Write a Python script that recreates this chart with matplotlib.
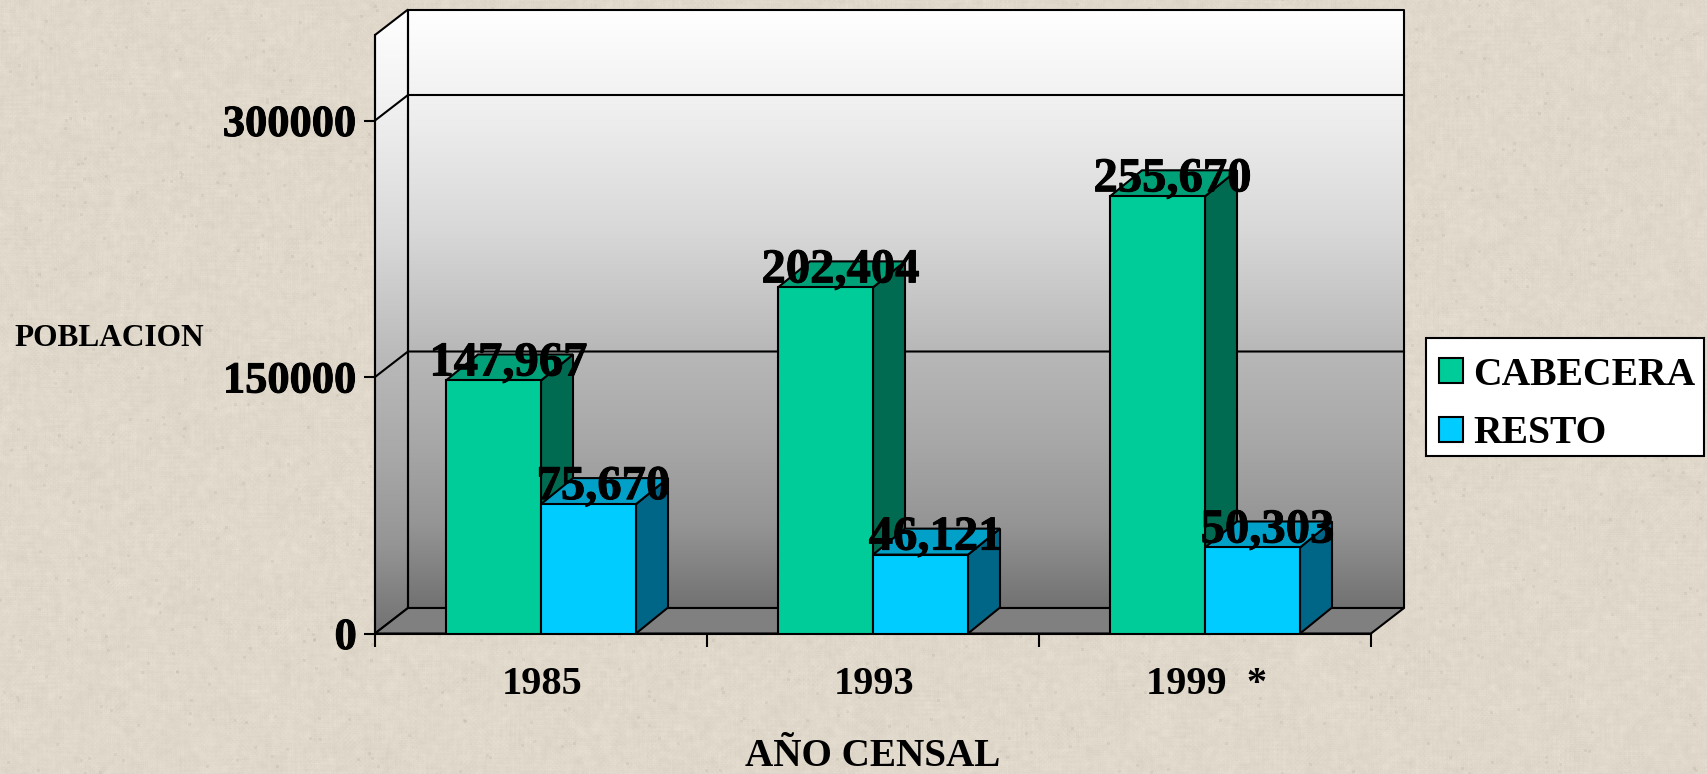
import numpy as np
import matplotlib
matplotlib.use("Agg")
import matplotlib.pyplot as plt
import matplotlib.patheffects as pe
from matplotlib.colors import LinearSegmentedColormap
from matplotlib.patches import Polygon, Patch, Rectangle

years = ["1985", "1993", "1999  *"]
cabecera = [147967, 202404, 255670]
resto = [75670, 46121, 50303]
yticks = [0, 150000, 300000]
series_names = ["CABECERA", "RESTO"]

W, H = 1707, 774
plt.rcParams['font.family'] = ['Liberation Serif', 'DejaVu Serif']
plt.rcParams['font.weight'] = 'bold'
fig = plt.figure(figsize=(W / 100, H / 100), dpi=100)

# paper-like background texture (decorative only)
rng = np.random.default_rng(7)
def blur(a, k):
    for ax_ in (0, 1):
        a = (np.roll(a, k, ax_) + a + np.roll(a, -k, ax_)) / 3
    return a
n = blur(blur(rng.normal(size=(H, W)), 1), 2) * 11 + blur(blur(rng.normal(size=(H, W)), 5), 9) * 14
spk = blur((rng.random((H, W)) > 0.9990).astype(float), 1) * 90
base = np.array([224, 216, 202], float)
tex = np.clip(base[None, None, :] + n[..., None] - spk[..., None], 0, 255) / 255
fig.figimage(tex, 0, 0, zorder=-10)

# axes: front plane of the 3-D box
L, R, T, B = 375, 1371, 35, 633.5
ax = fig.add_axes([L / W, 1 - B / H, (R - L) / W, (B - T) / H])
ax.patch.set_alpha(0)
ymax = 350000
ax.set_xlim(-0.5, 2.5)
ax.set_ylim(0, ymax)
for s in ax.spines.values():
    s.set_visible(False)

px_x = 3 / (R - L)
px_y = ymax / (B - T)
DX, DY = 33 * px_x, 25.5 * px_y
xl, xr = -0.5, 2.5
LW = 1.5
bold_fx = [pe.withStroke(linewidth=0.7, foreground='k')]

grad = np.linspace(0, 1, 256)[:, None]
cm = LinearSegmentedColormap.from_list('w', [(0, '#ffffff'), (0.14, '#f2f2f2'), (0.37, '#d8d8d8'),
                                             (0.57, '#b8b8b8'), (0.72, '#a8a8a8'), (0.86, '#959595'), (1, '#727272')])
# back wall
ax.imshow(grad, extent=[xl + DX, xr + DX, DY, ymax + DY], aspect='auto', cmap=cm, vmin=0, vmax=1, zorder=1, clip_on=False)
ax.plot([xl + DX, xr + DX, xr + DX, xl + DX, xl + DX], [DY, DY, ymax + DY, ymax + DY, DY], color='k', lw=LW, zorder=2, clip_on=False)
# left wall
im = ax.imshow(grad, extent=[xl, xl + DX, 0, ymax + DY], aspect='auto', cmap=cm, vmin=0, vmax=1, zorder=1)
lw_poly = Polygon([(xl, 0), (xl + DX, DY), (xl + DX, ymax + DY), (xl, ymax)], closed=True, fc='none', ec='k', lw=LW, zorder=2, clip_on=False)
ax.add_patch(lw_poly)
im.set_clip_box(fig.bbox)
im.set_clip_path(lw_poly)
# floor
ax.add_patch(Polygon([(xl, 0), (xr, 0), (xr + DX, DY), (xl + DX, DY)], closed=True, fc='#808080', ec='k', lw=LW, zorder=2, clip_on=False))
ax.set_xlim(-0.5, 2.5)
ax.set_ylim(0, ymax)
# gridlines
for v in yticks[1:]:
    ax.plot([xl, xl + DX, xr + DX], [v, v + DY, v + DY], color='k', lw=LW, zorder=3, clip_on=False)

# bars
bw = 95 / 332
dxb, dyb = 32 * px_x, 26 * px_y
colors = [('#00CC99', '#00A078', '#006B50'), ('#00CCFF', '#00A0C8', '#006688')]
zo = 4
for i in range(3):
    for j, vals in enumerate((cabecera, resto)):
        x0 = i + (j - 1) * bw
        x1 = x0 + bw
        v = vals[i]
        f, t, s = colors[j]
        ax.add_patch(Polygon([(x1, 0), (x1 + dxb, dyb), (x1 + dxb, v + dyb), (x1, v)], closed=True, fc=s, ec='k', lw=LW, zorder=zo, clip_on=False))
        ax.add_patch(Polygon([(x0, v), (x1, v), (x1 + dxb, v + dyb), (x0 + dxb, v + dyb)], closed=True, fc=t, ec='k', lw=LW, zorder=zo, clip_on=False))
        ax.bar(x0, v, bw, align='edge', color=f, edgecolor='k', lw=LW, zorder=zo + 0.1)
        zo += 0.2
for i in range(3):
    for j, vals in enumerate((cabecera, resto)):
        xc = i + (j - 0.5) * bw
        ax.annotate(f"{vals[i]:,}", (xc, vals[i]), xytext=(15 * 0.72, 5 * 0.72), textcoords='offset points',
                    ha='center', va='baseline', fontsize=35, fontweight='bold', color='k', zorder=20,
                    path_effects=bold_fx)

# ticks
ax.set_xticks([-0.5, 0.5, 1.5, 2.5])
ax.set_xticklabels([])
ax.set_yticks(yticks)
ax.set_yticklabels([str(v) for v in yticks], fontsize=32, fontweight='bold', path_effects=bold_fx)
ax.tick_params(axis='y', length=8, width=LW, pad=5)
ax.tick_params(axis='x', length=9, width=LW)
ax.plot([xl, xl], [0, ymax], color='k', lw=LW, zorder=3, clip_on=False)
ax.plot([xl, xr], [0, 0], color='k', lw=LW, zorder=3, clip_on=False)
for i, y in enumerate(years):
    ax.annotate(y, (i, 0), xytext=(1 * 0.72, -51.5 * 0.72), textcoords='offset points', ha='center', va='center',
                fontsize=29, fontweight='bold')

fig.text(873 / W, 1 - 756 / H, "AÑO CENSAL", ha='center', va='center', fontsize=28.2, fontweight='bold')
fig.text(14 / W, 1 - 339 / H, "POBLACION", ha='left', va='center', fontsize=22.6, fontweight='bold')

# legend frame and entries
fig.add_artist(Rectangle((1426 / W, 1 - 456 / H), 278 / W, 118 / H, transform=fig.transFigure,
                         fc='white', ec='k', lw=LW, zorder=5))
handles = [Patch(fc=colors[0][0], ec='k', lw=LW), Patch(fc=colors[1][0], ec='k', lw=LW)]
leg = fig.legend(handles, series_names, loc='upper left', bbox_to_anchor=(1426 / W, 1 - 343.5 / H), borderaxespad=0,
                 fontsize=28.5, frameon=False,
                 handlelength=0.61, handleheight=0.61, handletextpad=0.25, labelspacing=0.55, borderpad=0.33)
leg.set_zorder(6)

fig.savefig('out.png', dpi=100)
